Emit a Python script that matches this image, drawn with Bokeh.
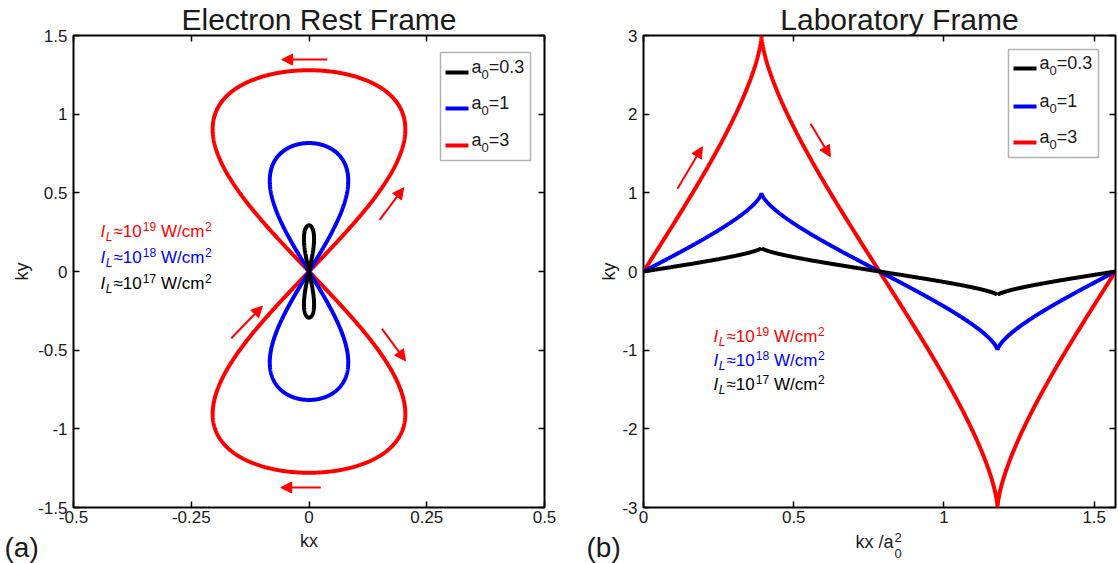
import numpy as np
from bokeh.plotting import figure
from bokeh.layouts import row, column
from bokeh.models import (Label, Arrow, NormalHead, BoxAnnotation, LinearAxis,
                          FixedTicker, Range1d, Title)
from bokeh.embed import file_html
from bokeh.resources import INLINE

# ---- data -----------------------------------------------------------------
A0_VALUES = [0.3, 1, 3]                      # normalised laser amplitudes
CURVE_COLORS = ["black", "#0000ff", "#ff0000"]
LEGEND_TAILS = ["=0.3", "=1", "=3"]

INTENSITY_EXPONENTS = ["19", "18", "17"]     # I_L ~ 10^n W/cm^2
INTENSITY_COLORS = ["#ff0000", "#0000ff", "black"]

REST_X_TICKS = [-0.5, -0.25, 0, 0.25, 0.5]
REST_X_LABELS = ["-0.5", "-0.25", "0", "0.25", "0.5"]
REST_Y_TICKS = [-1.5, -1, -0.5, 0, 0.5, 1, 1.5]
REST_Y_LABELS = ["-1.5", "-1", "-0.5", "0", "0.5", "1", "1.5"]

LAB_X_TICKS = [0, 0.5, 1, 1.5]
LAB_X_LABELS = ["0", "0.5", "1", "1.5"]
LAB_Y_TICKS = [-3, -2, -1, 0, 1, 2, 3]
LAB_Y_LABELS = ["-3", "-2", "-1", "0", "1", "2", "3"]

# laser phase over one period
PHASE = np.linspace(0.0, 2.0 * np.pi, 1441)

FONT = "Liberation Sans"
INK = "#1a1a1a"
# advance widths (em) of Liberation Sans glyphs used in composed labels
GLYPH_W = {c: 0.556 for c in "0123456789ab"}
GLYPH_W.update({"=": 0.584, ".": 0.278, "\u2248": 0.584, " ": 0.278, "W": 0.944,
                "/": 0.278, "c": 0.5, "m": 0.833, "I": 0.278, "L": 0.556,
                "k": 0.5, "x": 0.5, "(": 0.333, ")": 0.333, "E": 0.667,
                "l": 0.222, "e": 0.556, "t": 0.278, "r": 0.333, "o": 0.556,
                "n": 0.556, "R": 0.722, "s": 0.5, "F": 0.611, "y": 0.5})

WIDTH, HEIGHT = 1118, 563
BOTTOM_STRIP = 33        # page rows below the tick labels
FRAME_BOTTOM = 507       # page row of the frames' lower edge
TITLE_SIZE = 30


def text_width(s, size):
    return sum(GLYPH_W.get(ch, 0.55) for ch in s) * size


def lift(size):
    # Label boxes sit a little below the requested baseline; compensate
    return 0.2 * size + 3


def label(X, Y, text, size, color=INK, italic=False, align="left"):
    return Label(x=X, y=Y, text=text, text_font=FONT,
                 text_font_size=f"{size}px", text_color=color,
                 text_font_style="italic" if italic else "normal",
                 text_align=align, text_baseline="alphabetic")


def page_label(X, Y, y0, text, size, align="left"):
    """label in a strip whose y axis counts page rows downward from y0"""
    return label(X, Y - y0 - lift(size), text, size, align=align)


def frame_text(p, left, X, Y, text, size, color=INK, italic=False):
    lab = label(X - left, FRAME_BOTTOM - Y + lift(size), text, size, color, italic)
    lab.x_units = "screen"
    lab.y_units = "screen"
    p.add_layout(lab)


def frame_rich(p, left, X, Y, pieces, color):
    """pieces: (text, size, baseline shift in px downward, italic, gap before)"""
    x = X
    for txt, size, dy, italic, gap in pieces:
        x += gap
        frame_text(p, left, x, Y + dy, txt, size, color=color, italic=italic)
        x += text_width(txt, size)


def intensity_pieces(exp):
    return [("I", 17, 0, True, 0), ("L", 12, 5, True, 0.5),
            ("\u2248" + "10", 17, 0, False, 1),
            (exp, 12, -6, False, 0.5), ("W/cm", 17, 0, False, 5),
            ("2", 12, -6, False, 0.5)]


def panel_title(text, center, left):
    # left-aligned title shifted so that its middle lands on `center`
    return Title(text=text, align="left",
                 offset=center - text_width(text, TITLE_SIZE) / 2 - left,
                 text_font=FONT, text_font_size=f"{TITLE_SIZE}px",
                 text_font_style="normal", text_color=INK, standoff=0)


def style_axes(p, xt, xl, yt, yl, y_label_standoff):
    overrides_x = {t: l for t, l in zip(xt, xl)}
    overrides_y = {t: l for t, l in zip(yt, yl)}
    for ax, ticks, ov in ((p.xaxis[0], xt, overrides_x), (p.yaxis[0], yt, overrides_y)):
        ax.ticker = FixedTicker(ticks=ticks)
        ax.major_label_overrides = ov
        ax.major_label_text_font = FONT
        ax.major_label_text_font_size = "17px"
        ax.major_label_text_color = INK
        ax.axis_label_text_font = FONT
        ax.axis_label_text_font_size = "18px"
        ax.axis_label_text_font_style = "normal"
        ax.axis_label_text_color = INK
        ax.axis_line_color = None
        ax.major_tick_in = 6
        ax.major_tick_out = 0
        ax.major_tick_line_color = "black"
        ax.major_tick_line_width = 1.5
        ax.minor_tick_line_color = None
    p.xaxis[0].major_label_standoff = 3
    p.yaxis[0].major_label_standoff = 6
    p.yaxis[0].axis_label_standoff = y_label_standoff
    # tick marks on the opposite edges of the box, without numbers
    for loc, ticks in (("above", xt), ("right", yt)):
        extra = LinearAxis(ticker=FixedTicker(ticks=ticks),
                           major_label_text_font_size="1px",
                           major_label_text_color=None,
                           major_label_standoff=0, axis_line_color=None,
                           major_tick_in=6, major_tick_out=0,
                           major_tick_line_width=1.5,
                           minor_tick_line_color=None)
        p.add_layout(extra, loc)
    p.xgrid.grid_line_color = None
    p.ygrid.grid_line_color = None
    p.outline_line_color = "black"
    p.outline_line_width = 2
    p.background_fill_color = "white"
    p.border_fill_color = "white"


def legend(p, left, box, rows, line_x, text_x):
    l, r, t, b = box
    p.add_layout(BoxAnnotation(left=l - left, right=r - left,
                               top=FRAME_BOTTOM - t, bottom=FRAME_BOTTOM - b,
                               left_units="screen", right_units="screen",
                               top_units="screen", bottom_units="screen",
                               fill_color="white", fill_alpha=1.0,
                               line_color="black", line_width=1.5,
                               level="annotation"))
    for y, color, tail in zip(rows, CURVE_COLORS, LEGEND_TAILS):
        p.add_layout(Arrow(start=None, end=None,
                           x_start=line_x[0] - left, x_end=line_x[1] - left,
                           y_start=FRAME_BOTTOM - y, y_end=FRAME_BOTTOM - y,
                           start_units="screen", end_units="screen",
                           line_color=color, line_width=4))
        frame_rich(p, left, text_x, y + 1,
                   [("a", 18, 0, False, 0), ("0", 13, 7, False, 0),
                    (tail, 18, 0, False, 0)], INK)


def red_arrow(p, xs, ys, xe, ye):
    p.add_layout(Arrow(end=NormalHead(size=11, fill_color="#ff0000",
                                      line_color="#ff0000", line_width=1),
                       x_start=xs, y_start=ys, x_end=xe, y_end=ye,
                       line_color="#ff0000", line_width=2))


def strip(height):
    s = figure(width=WIDTH, height=height, output_backend="svg",
               toolbar_location=None, x_range=Range1d(0, WIDTH),
               y_range=Range1d(height, 0), x_axis_type=None, y_axis_type=None,
               title=None, min_border_left=0, min_border_right=0,
               min_border_top=0, min_border_bottom=0)
    s.grid.visible = False
    s.outline_line_color = None
    s.background_fill_color = "white"
    s.border_fill_color = "white"
    return s


PANEL_H = HEIGHT - BOTTOM_STRIP
BOTTOM_BORDER = PANEL_H - FRAME_BOTTOM

# ---- (a) electron rest frame ------------------------------------------------
LEFT_A = 73
pa = figure(width=593, height=PANEL_H, output_backend="svg", toolbar_location=None,
            x_range=Range1d(-0.5, 0.5), y_range=Range1d(-1.5, 1.5),
            title=panel_title("Electron Rest Frame", 318.5, LEFT_A),
            min_border_left=LEFT_A, min_border_right=49,
            min_border_top=0, min_border_bottom=BOTTOM_BORDER,
            y_axis_label="ky")
style_axes(pa, REST_X_TICKS, REST_X_LABELS, REST_Y_TICKS, REST_Y_LABELS, 3)

for a0, color in reversed(list(zip(A0_VALUES, CURVE_COLORS))):
    h2 = 1.0 + a0 ** 2 / 2.0
    kx = a0 ** 2 / (8.0 * h2) * np.sin(2.0 * PHASE)
    ky = a0 / np.sqrt(h2) * np.sin(PHASE)
    pa.line(kx, ky, line_color=color, line_width=4)

red_arrow(pa, 0.039, 1.347, -0.058, 1.347)
red_arrow(pa, 0.150, 0.328, 0.201, 0.532)
red_arrow(pa, -0.165, -0.424, -0.099, -0.220)
red_arrow(pa, 0.155, -0.365, 0.205, -0.568)
red_arrow(pa, 0.025, -1.373, -0.060, -1.373)

legend(pa, LEFT_A, (440, 530, 52, 160), (72, 108, 145), (445, 468), 471)
for i, (exp, color) in enumerate(zip(INTENSITY_EXPONENTS, INTENSITY_COLORS)):
    frame_rich(pa, LEFT_A, 100, 237 + 26 * i, intensity_pieces(exp), color)

# ---- (b) laboratory frame ---------------------------------------------------
LEFT_B = 643
pb = figure(width=WIDTH - 593, height=PANEL_H, output_backend="svg",
            toolbar_location=None,
            x_range=Range1d(0, np.pi / 2), y_range=Range1d(-3, 3),
            title=panel_title("Laboratory Frame", 899, LEFT_B),
            min_border_left=LEFT_B - 593, min_border_right=3,
            min_border_top=0, min_border_bottom=BOTTOM_BORDER,
            y_axis_label="ky")
style_axes(pb, LAB_X_TICKS, LAB_X_LABELS, LAB_Y_TICKS, LAB_Y_LABELS, 0)

for a0, color in reversed(list(zip(A0_VALUES, CURVE_COLORS))):
    kx_norm = (PHASE + 0.5 * np.sin(2.0 * PHASE)) / 4.0
    ky = a0 * np.sin(PHASE)
    pb.line(kx_norm, ky, line_color=color, line_width=4)

red_arrow(pb, 0.113, 1.051, 0.196, 1.586)
red_arrow(pb, 0.556, 1.879, 0.622, 1.459)

legend(pb, LEFT_B, (1008, 1098, 49, 157), (68, 106, 142), (1013, 1036), 1039)
for i, (exp, color) in enumerate(zip(INTENSITY_EXPONENTS, INTENSITY_COLORS)):
    frame_rich(pb, LEFT_B, 713, 342 + 24 * i, intensity_pieces(exp), color)

# ---- panel tags and x labels below ------------------------------------------
bottom = strip(BOTTOM_STRIP)
y0 = HEIGHT - BOTTOM_STRIP          # page row of the strip's top edge
bottom.add_layout(page_label(4, 556, y0, "(a)", 28))
bottom.add_layout(page_label(586, 556, y0, "(b)", 28))
bottom.add_layout(page_label(308.5, 547, y0, "kx", 18, align="center"))
bottom.add_layout(page_label(855, 548, y0, "kx /a", 18))
sx = 855 + text_width("kx /a", 18) + 1
bottom.add_layout(page_label(sx, 543, y0, "2", 13))
bottom.add_layout(page_label(sx, 559, y0, "0", 13))

layout = column(row(pa, pb), bottom)
open("out.html", "w").write(file_html(layout, INLINE))
